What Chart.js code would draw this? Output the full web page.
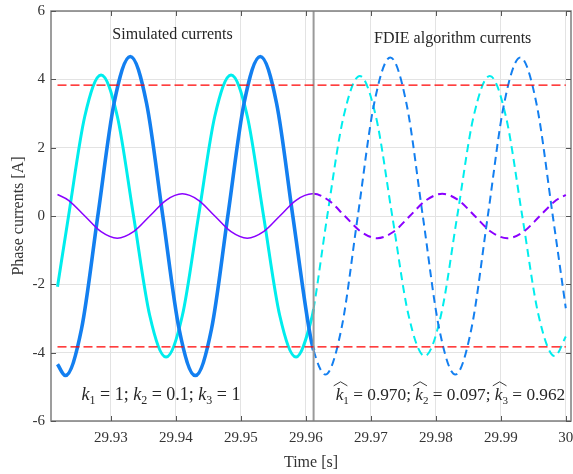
<!DOCTYPE html>
<html>
<head>
<meta charset="utf-8">
<script src="https://cdn.jsdelivr.net/npm/chart.js@4.4.1/dist/chart.umd.min.js"></script>
<style>
  html, body { margin: 0; padding: 0; background: #fff; }
</style>
</head>
<body>
<canvas id="currents" width="573" height="474"></canvas>
<script>
/* axes */
const X_MIN = 29.9208;
const X_MAX = 30.0008;
const xTicks = [29.93, 29.94, 29.95, 29.96, 29.97, 29.98, 29.99, 30];
const yTicks = [-6, -4, -2, 0, 2, 4, 6];

// moment where the FDIE estimate takes over from the simulation
const tSwitch = 29.9612;
// current limits (red dashed)
const limitLevels = [3.83, -3.83];
const limitSpan = [29.9218, 30.0];

/* phase a - blue */
const tA = [29.9218, 29.923, 29.9255, 29.928, 29.9305, 29.933, 29.9355, 29.938, 29.9405, 29.943,
            29.9455, 29.948, 29.9505, 29.953, 29.9555, 29.958, 29.9605, 29.9612, 29.963, 29.9655,
            29.968, 29.9705, 29.973, 29.9755, 29.978, 29.9805, 29.983, 29.9855, 29.988, 29.9905,
            29.993, 29.9955, 29.998, 30.0];
const iA = [-4.34, -4.67, -3.30, 0, 3.30, 4.67, 3.30, 0, -3.30, -4.67,
            -3.30, 0, 3.30, 4.67, 3.30, 0, -3.30, -3.93, -4.64, -3.28,
            0, 3.28, 4.64, 3.28, 0, -3.28, -4.64, -3.28, 0, 3.28,
            4.64, 3.28, 0, -2.70];

/* phase b - cyan */
const tB = [29.9218, 29.9235, 29.926, 29.9285, 29.931, 29.9335, 29.936, 29.9385, 29.941, 29.9435,
            29.946, 29.9485, 29.951, 29.9535, 29.956, 29.9585, 29.961, 29.9612, 29.9633, 29.9658,
            29.9683, 29.9708, 29.9733, 29.9758, 29.9783, 29.9808, 29.9833, 29.9858, 29.9883, 29.9908,
            29.9933, 29.9958, 29.9983, 30.0];
const iB = [-2.07, 0, 2.92, 4.13, 2.92, 0, -2.92, -4.13, -2.92, 0,
            2.92, 4.13, 2.92, 0, -2.92, -4.13, -2.92, -2.72, 0, 2.90,
            4.10, 2.90, 0, -2.90, -4.10, -2.90, 0, 2.90, 4.10, 2.90,
            0, -2.90, -4.10, -3.53];

/* phase c - purple */
const tC = [29.9218, 29.9235, 29.926, 29.9285, 29.931, 29.9335, 29.936, 29.9385, 29.941, 29.9435,
            29.946, 29.9485, 29.951, 29.9535, 29.956, 29.9585, 29.961, 29.9612, 29.9635, 29.966,
            29.9685, 29.971, 29.9735, 29.976, 29.9785, 29.981, 29.9835, 29.986, 29.9885, 29.991,
            29.9935, 29.996, 29.9985, 30.0];
const iC = [0.63, 0.46, 0, -0.46, -0.65, -0.46, 0, 0.46, 0.65, 0.46,
            0, -0.46, -0.65, -0.46, 0, 0.46, 0.65, 0.65, 0.46, 0,
            -0.46, -0.65, -0.46, 0, 0.46, 0.65, 0.46, 0, -0.46, -0.65,
            -0.46, 0, 0.46, 0.62];

/* fault coefficients: true and estimated */
const kTrue = ['1', '0.1', '1'];
const kEst = ['0.970', '0.097', '0.962'];

const SERIF = '"Liberation Serif", "Times New Roman", serif';
const TEXT_COLOR = '#262626';

function toPoints(ts, vs) {
    return ts.map((t, k) => ({ x: t, y: vs[k] }));
}

// solid before the switch, dashed after it
function phaseDataset(label, ts, vs, color, solidWidth, dashWidth, order) {
    return {
        label: label,
        data: toPoints(ts, vs),
        borderColor: color,
        borderWidth: solidWidth,
        pointRadius: 0,
        cubicInterpolationMode: 'monotone',
        order: order,
        segment: {
            borderDash: ctx => ctx.p0.parsed.x >= tSwitch - 1e-9 ? [8, 5] : undefined,
            borderWidth: ctx => ctx.p0.parsed.x >= tSwitch - 1e-9 ? dashWidth : undefined
        }
    };
}

function limitDataset(level) {
    return {
        label: 'limit ' + level,
        data: limitSpan.map(t => ({ x: t, y: level })),
        borderColor: '#ff0000',
        borderWidth: 1.3,
        borderDash: [9, 4],
        pointRadius: 0,
        order: 0
    };
}

// k_i = value; ... written with italic k, subscripts and optional wide hat
function drawCoefficients(ctx, x, y, values, hat, size) {
    let cx = x;
    const sub = Math.round(size * 0.66);
    values.forEach((v, i) => {
        ctx.font = 'italic ' + size + 'px ' + SERIF;
        ctx.fillText('k', cx, y);
        const kw = ctx.measureText('k').width;
        if (hat) {
            ctx.beginPath();
            ctx.moveTo(cx - 2, y - 14);
            ctx.lineTo(cx + kw / 2 + 1, y - 18);
            ctx.lineTo(cx + kw + 4, y - 14);
            ctx.lineWidth = 0.9;
            ctx.strokeStyle = TEXT_COLOR;
            ctx.stroke();
        }
        cx += kw;
        ctx.font = sub + 'px ' + SERIF;
        ctx.fillText(String(i + 1), cx, y + 4);
        cx += ctx.measureText(String(i + 1)).width;
        ctx.font = size + 'px ' + SERIF;
        let rest = ' = ' + v + (i < values.length - 1 ? '; ' : '');
        ctx.fillText(rest, cx, y);
        cx += ctx.measureText(rest).width;
    });
}

const framePlugin = {
    id: 'framePlugin',
    afterDatasetsDraw(chart) {
        const { ctx, chartArea: a, scales: { x, y } } = chart;
        ctx.save();

        // box round the plot area
        ctx.strokeStyle = '#7d7d7d';
        ctx.lineWidth = 1.5;
        ctx.strokeRect(a.left, a.top, a.right - a.left, a.bottom - a.top);

        // inward ticks on all four sides
        ctx.strokeStyle = '#555555';
        ctx.lineWidth = 1;
        ctx.beginPath();
        xTicks.forEach(v => {
            const px = Math.round(x.getPixelForValue(v)) + 0.5;
            ctx.moveTo(px, a.bottom); ctx.lineTo(px, a.bottom - 5);
            ctx.moveTo(px, a.top); ctx.lineTo(px, a.top + 5);
        });
        yTicks.forEach(v => {
            const py = Math.round(y.getPixelForValue(v)) + 0.5;
            ctx.moveTo(a.left, py); ctx.lineTo(a.left + 5, py);
            ctx.moveTo(a.right, py); ctx.lineTo(a.right - 5, py);
        });
        ctx.stroke();

        // section titles
        ctx.fillStyle = TEXT_COLOR;
        ctx.font = '16px ' + SERIF;
        ctx.textAlign = 'center';
        ctx.textBaseline = 'middle';
        ctx.fillText('Simulated currents', x.getPixelForValue(29.9395), y.getPixelForValue(5.3));
        ctx.fillText('FDIE algorithm currents', x.getPixelForValue(29.9826), y.getPixelForValue(5.2));

        // coefficient notes
        ctx.textAlign = 'left';
        ctx.textBaseline = 'alphabetic';
        drawCoefficients(ctx, x.getPixelForValue(29.9255), y.getPixelForValue(-5.38), kTrue, false, 18);
        drawCoefficients(ctx, x.getPixelForValue(29.9646), y.getPixelForValue(-5.38), kEst, true, 17.3);

        ctx.restore();
    }
};

new Chart(document.getElementById('currents'), {
    type: 'line',
    data: {
        datasets: [
            phaseDataset('i_b', tB, iB, '#00eded', 3.0, 2.0, 4),
            phaseDataset('i_a', tA, iA, '#137ff0', 3.6, 2.0, 3),
            phaseDataset('i_c', tC, iC, '#8a00ff', 1.5, 2.0, 2),
            limitDataset(limitLevels[0]),
            limitDataset(limitLevels[1]),
            {
                label: 'switch',
                data: [{ x: tSwitch, y: -6 }, { x: tSwitch, y: 6 }],
                borderColor: '#9a9a9a',
                borderWidth: 2,
                pointRadius: 0,
                order: 1
            }
        ]
    },
    options: {
        responsive: false,
        animation: false,
        layout: { padding: { top: 11, right: 2, left: 0, bottom: 0 } },
        plugins: {
            legend: { display: false },
            tooltip: { enabled: false }
        },
        scales: {
            x: {
                type: 'linear',
                min: X_MIN,
                max: X_MAX,
                afterBuildTicks: s => { s.ticks = xTicks.map(v => ({ value: v })); },
                afterFit: s => { s.height = 53; s.paddingLeft = 0; s.paddingRight = 0; },
                grid: { color: '#e3e3e3', lineWidth: 1, drawTicks: false },
                border: { display: false },
                ticks: {
                    padding: 8,
                    color: '#333333',
                    font: { family: SERIF, size: 15 },
                    maxRotation: 0,
                    callback: v => String(Number(v.toFixed(2)))
                },
                title: {
                    display: true,
                    text: 'Time [s]',
                    color: '#333333',
                    font: { family: SERIF, size: 16 },
                    padding: { top: 0, bottom: 2 }
                }
            },
            y: {
                min: -6,
                max: 6,
                afterBuildTicks: s => { s.ticks = yTicks.map(v => ({ value: v })); },
                afterFit: s => { s.width = 51; s.paddingTop = 0; s.paddingBottom = 0; },
                grid: { color: '#e3e3e3', lineWidth: 1, drawTicks: false },
                border: { display: false },
                ticks: {
                    padding: 6,
                    color: '#333333',
                    font: { family: SERIF, size: 15 }
                },
                title: {
                    display: true,
                    text: 'Phase currents [A]',
                    color: '#333333',
                    font: { family: SERIF, size: 16 },
                    padding: { top: 9, bottom: 0 }
                }
            }
        }
    },
    plugins: [framePlugin]
});
</script>
</body>
</html>
